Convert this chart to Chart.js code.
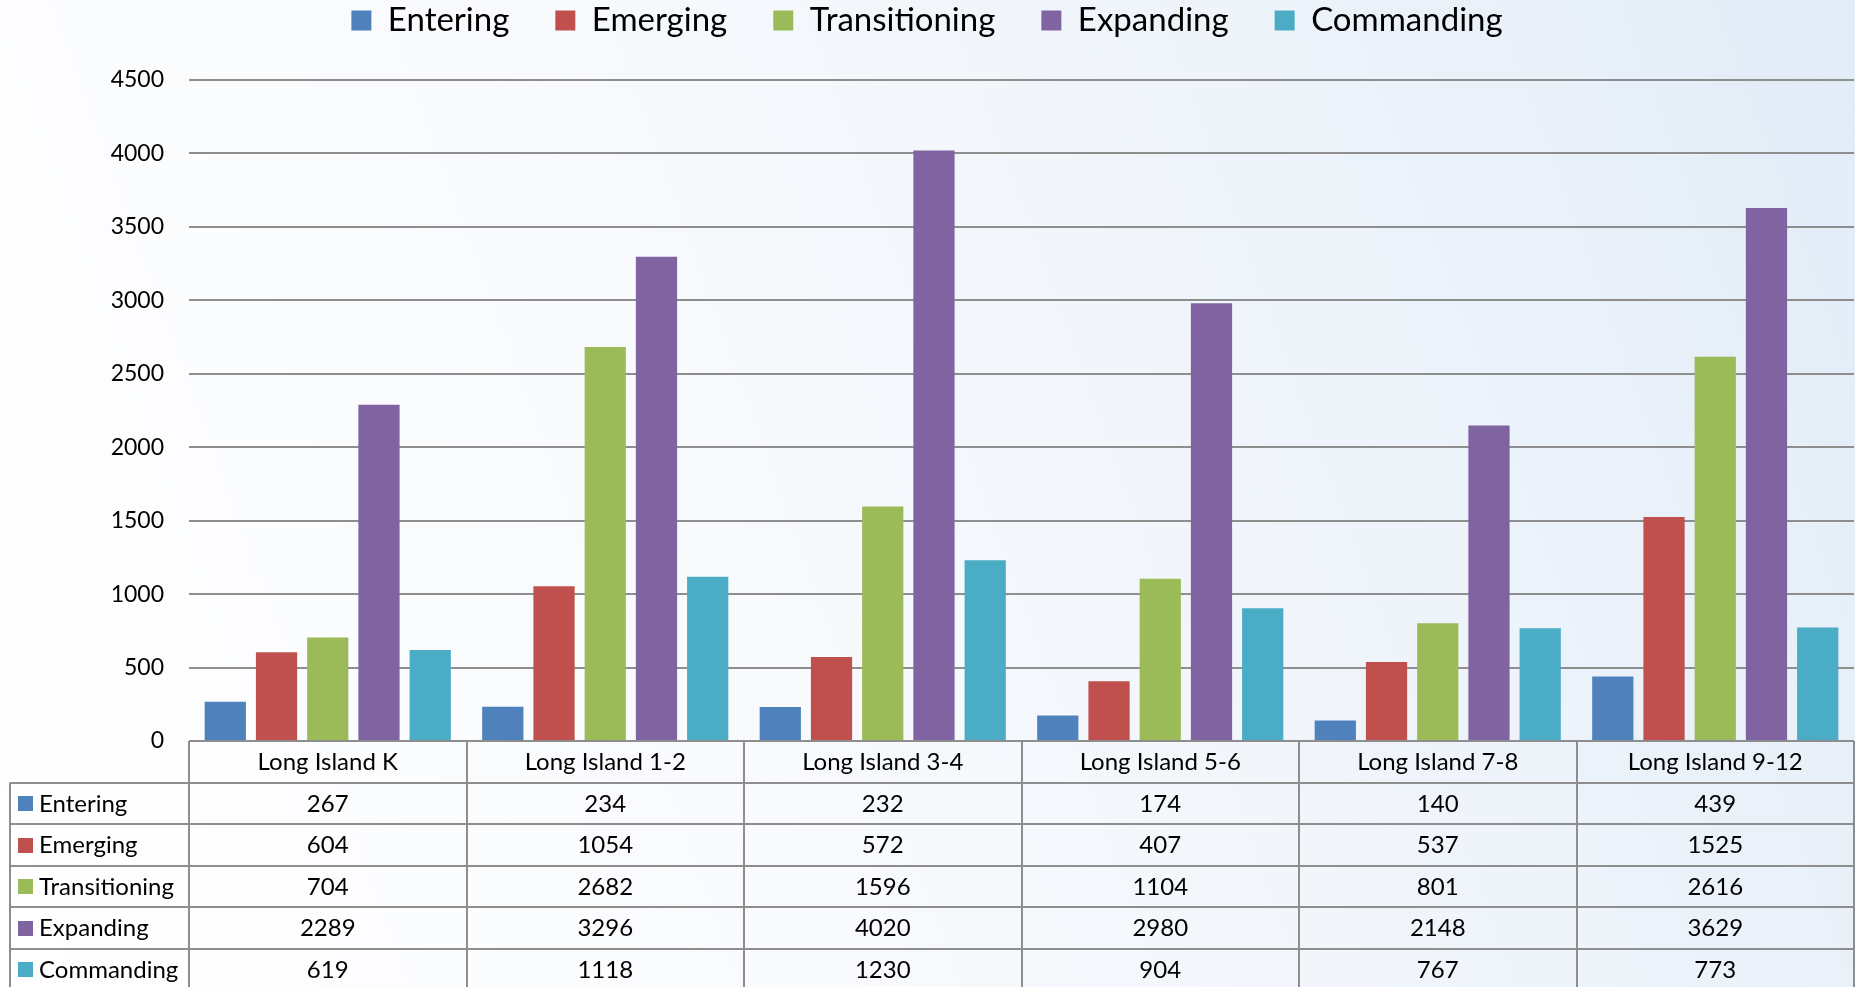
<!DOCTYPE html>
<html><head><meta charset="utf-8">
<script src="https://cdn.jsdelivr.net/npm/chart.js@4.4.1/dist/chart.umd.min.js"></script>
<style>
html,body{margin:0;padding:0;width:1855px;height:987px;overflow:hidden;}
body{background:linear-gradient(70deg,#ffffff 0%,#f8fafd 40%,#edf3fa 75%,#e2ecf7 100%);}
#wrap{position:relative;width:1855px;height:987px;}
canvas{display:block;}
</style></head><body>
<div id="wrap"><canvas id="c" width="1855" height="987"></canvas></div>
<script>
const categories = ['Long Island K','Long Island 1-2','Long Island 3-4','Long Island 5-6','Long Island 7-8','Long Island 9-12'];
const seriesNames = ['Entering','Emerging','Transitioning','Expanding','Commanding'];
const entering = [267, 234, 232, 174, 140, 439];
const emerging = [604, 1054, 572, 407, 537, 1525];
const transitioning = [704, 2682, 1596, 1104, 801, 2616];
const expanding = [2289, 3296, 4020, 2980, 2148, 3629];
const commanding = [619, 1118, 1230, 904, 767, 773];
const yTickValues = [0, 500, 1000, 1500, 2000, 2500, 3000, 3500, 4000, 4500];

const seriesValues = [entering, emerging, transitioning, expanding, commanding];
const palette = ['#4F81BD', '#C0504D', '#9BBB59', '#8064A2', '#4BACC6'];
const FONT = 'Lato';

const legendFix = {
  id: 'legendFix',
  beforeInit(chart) {
    const lg = chart.legend;
    if (lg && !lg._patched) {
      const f = lg.fit;
      lg.fit = function () { f.call(this); this.height = 122; };
      lg._patched = true;
    }
  }
};

const dataTable = {
  id: 'dataTable',
  afterDraw(chart) {
    const ctx = chart.ctx, xs = chart.scales.x, area = chart.chartArea;
    const n = categories.length;
    const colW = (area.right - area.left) / n;
    const rowH = 41.5;
    const top = area.bottom;
    const leftX = 10;
    const rows = seriesNames.length + 1;
    ctx.save();
    ctx.strokeStyle = '#8e8e8e';
    ctx.lineWidth = 2;
    ctx.beginPath();
    for (let r = 1; r <= rows; r++) {
      const y = Math.round(top + r * rowH);
      ctx.moveTo(leftX, y); ctx.lineTo(area.right, y);
    }
    for (let i = 0; i <= n; i++) {
      const xx = Math.round(area.left + i * colW);
      ctx.moveTo(xx, top); ctx.lineTo(xx, top + rows * rowH);
    }
    ctx.moveTo(leftX, top + rowH); ctx.lineTo(leftX, top + rows * rowH);
    ctx.stroke();

    ctx.fillStyle = '#000';
    ctx.font = '24px ' + FONT;
    ctx.textAlign = 'center';
    ctx.textBaseline = 'middle';
    categories.forEach((c, i) => ctx.fillText(c, xs.getPixelForValue(i), top + rowH / 2 + 1));
    chart.data.datasets.forEach((ds, r) => {
      const cy = top + (r + 1) * rowH + rowH / 2 + 1;
      ctx.fillStyle = '#000';
      ctx.textAlign = 'center';
      ds.data.forEach((v, i) => ctx.fillText(String(v), xs.getPixelForValue(i), cy));
      ctx.fillStyle = ds.backgroundColor;
      ctx.fillRect(18, Math.round(cy - 8), 15, 15);
      ctx.fillStyle = '#000';
      ctx.textAlign = 'left';
      ctx.fillText(ds.label, 39, cy);
    });
    ctx.restore();
  }
};

function build() {
  new Chart(document.getElementById('c'), {
    type: 'bar',
    data: {
      labels: categories,
      datasets: seriesNames.map((name, k) => ({
        label: name,
        data: seriesValues[k],
        backgroundColor: palette[k],
        borderWidth: 0,
        categoryPercentage: 0.923,
        barPercentage: 0.805
      }))
    },
    options: {
      responsive: false,
      animation: false,
      devicePixelRatio: 1,
      layout: { padding: { top: -42, left: 0, right: 1, bottom: 246 } },
      plugins: {
        legend: {
          position: 'top',
          labels: {
            font: { family: FONT, size: 33 },
            color: '#000',
            boxWidth: 20,
            boxHeight: 20,
            padding: 46
          }
        },
        tooltip: { enabled: false }
      },
      scales: {
        x: { display: false },
        y: {
          min: 0,
          max: 4500,
          afterBuildTicks(scale) { scale.ticks = yTickValues.map(v => ({ value: v })); },
          afterFit(scale) { scale.width = 189; },
          border: { display: false },
          grid: { color: '#8e8e8e', lineWidth: 2, drawTicks: false },
          ticks: {
            font: { family: FONT, size: 23 },
            color: '#000',
            padding: 25,
            callback: (v) => String(v)
          }
        }
      }
    },
    plugins: [legendFix, dataTable]
  });
}
if (document.fonts && document.fonts.load) {
  document.fonts.load('24px ' + FONT).then(build, build);
} else { build(); }
</script>
</body></html>
